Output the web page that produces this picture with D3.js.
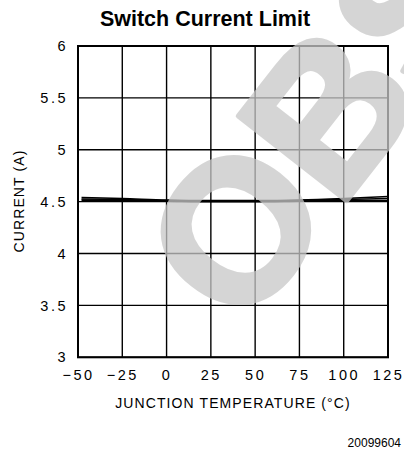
<!DOCTYPE html>
<html><head><meta charset="utf-8">
<script src="https://cdn.jsdelivr.net/npm/d3@7"></script>
<style>body{margin:0;background:#fff}svg{display:block}</style>
</head><body>
<svg id="c" width="404" height="451"></svg>
<script>
const title = "Switch Current Limit";
const xLabel = "JUNCTION TEMPERATURE (°C)";
const yLabel = "CURRENT (A)";
const figId = "20099604";
const xTicks = [-50, -25, 0, 25, 50, 75, 100, 125];
const yTicks = [3, 3.5, 4, 4.5, 5, 5.5, 6];
const temps = [-48, -25, 0, 25, 50, 75, 100, 125];
const seriesHigh = [4.54, 4.53, 4.515, 4.51, 4.51, 4.515, 4.53, 4.55];
const seriesMid  = [4.525, 4.52, 4.51, 4.505, 4.505, 4.51, 4.52, 4.53];
const seriesLow  = [4.515, 4.51, 4.505, 4.5, 4.5, 4.505, 4.51, 4.51];
const watermark = "OBSOLETE";

const svg = d3.select("#c");
const x = d3.scaleLinear().domain([-50, 125]).range([78, 388]);
const y = d3.scaleLinear().domain([3, 6]).range([357.3, 46]);
const tickFont = "'Liberation Sans', Arial, sans-serif";

svg.append("text").attr("x", 205).attr("y", 26).attr("text-anchor", "middle")
  .attr("font-family", tickFont).attr("font-weight", "bold").attr("font-size", 21.5)
  .text(title);

// grid
const g = svg.append("g");
g.selectAll(".vx").data(xTicks).join("line")
  .attr("x1", d => x(d)).attr("x2", d => x(d)).attr("y1", y(3)).attr("y2", y(6))
  .attr("stroke", "#000").attr("stroke-width", 1.4);
g.selectAll(".hy").data(yTicks).join("line")
  .attr("y1", d => y(d)).attr("y2", d => y(d)).attr("x1", x(-50)).attr("x2", x(125))
  .attr("stroke", "#000").attr("stroke-width", 1.4);
g.append("rect").attr("x", x(-50)).attr("y", y(6)).attr("width", x(125) - x(-50))
  .attr("height", y(3) - y(6)).attr("fill", "none").attr("stroke", "#000").attr("stroke-width", 2);

const xAxis = svg.append("g").attr("transform", `translate(0,${y(3)})`)
  .call(d3.axisBottom(x).tickValues(xTicks).tickSize(0).tickPadding(12)
    .tickFormat(d => d < 0 ? "\u2212" + Math.abs(d) : d));
const yAxis = svg.append("g").attr("transform", `translate(${x(-50)},0)`)
  .call(d3.axisLeft(y).tickValues(yTicks).tickSize(0).tickPadding(10)
    .tickFormat(d => String(d)));
[xAxis, yAxis].forEach(a => {
  a.select(".domain").remove();
  a.selectAll("text").attr("font-family", tickFont).attr("font-size", 14.5)
    .attr("fill", "#000").attr("letter-spacing", 2.5);
});

svg.append("text").attr("x", 233).attr("y", 408).attr("text-anchor", "middle")
  .attr("font-family", tickFont).attr("font-size", 14).attr("letter-spacing", 1.1)
  .text(xLabel);
svg.append("text").attr("transform", "translate(24,201) rotate(-90)").attr("text-anchor", "middle")
  .attr("font-family", tickFont).attr("font-size", 14).attr("letter-spacing", 1.1)
  .text(yLabel);
svg.append("text").attr("x", 401).attr("y", 447).attr("text-anchor", "end")
  .attr("font-family", tickFont).attr("font-size", 12).text(figId);

const line = d3.line().x((d, i) => x(temps[i])).y(d => y(d)).curve(d3.curveMonotoneX);
[seriesHigh, seriesMid, seriesLow].forEach(s => {
  svg.append("path").attr("d", line(s)).attr("fill", "none")
    .attr("stroke", "#000").attr("stroke-width", 1.6);
});

// watermark
svg.append("text").attr("transform", "translate(234,228) rotate(-52)")
  .attr("x", -78).attr("y", 72)
  .attr("font-family", tickFont).attr("font-weight", "bold").attr("font-size", 200)
  .attr("fill", "#c8c8c8").attr("stroke", "#c8c8c8").attr("stroke-width", 5)
  .attr("stroke-linejoin", "round").attr("opacity", 0.75).text(watermark);
</script>
</body></html>
